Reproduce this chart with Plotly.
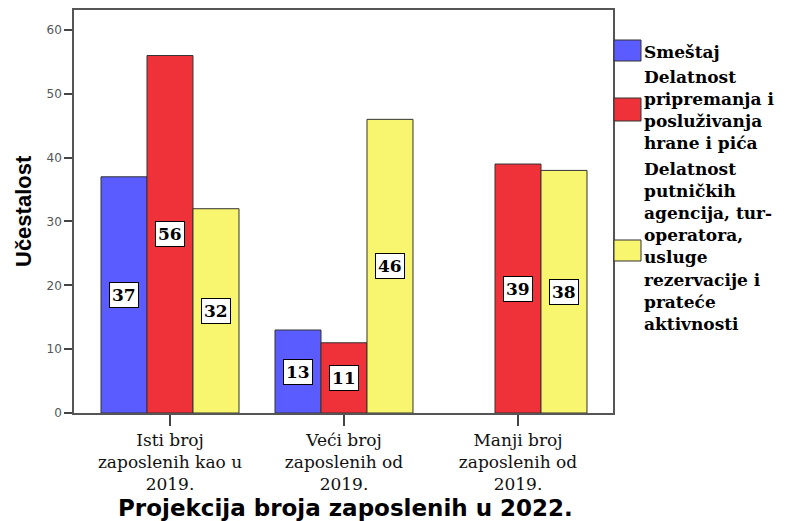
import plotly.graph_objects as go

# --- data -------------------------------------------------------------
categories = [
    "Isti broj<br>zaposlenih kao u<br>2019.",
    "Veći broj<br>zaposlenih od<br>2019.",
    "Manji broj<br>zaposlenih od<br>2019.",
]
series_names = [
    "Smeštaj",
    "Delatnost<br>pripremanja i<br>posluživanja<br>hrane i pića",
    "Delatnost<br>putničkih<br>agencija, tur-<br>operatora,<br>usluge<br>rezervacije i<br>prateće<br>aktivnosti",
]
smestaj = [37, 13, None]
hrana_i_pice = [56, 11, 39]
agencije = [32, 46, 38]
y_ticks = [0, 10, 20, 30, 40, 50, 60]

series_values = [smestaj, hrana_i_pice, agencije]
series_colors = ["#5a5cff", "#ef323a", "#f8f56e"]

# --- layout geometry (pixels) ----------------------------------------
W, H = 805, 521
PL, PR, PT, PB = 74, 613, 10, 413
BARGAP = 0.207
SLOT = (1 - BARGAP) / 3


def px_x(px):
    return (px - PL) / (PR - PL)


def px_y(py):
    return (PB - py) / (PB - PT)


x_idx = list(range(len(categories)))

fig = go.Figure()
for name, vals, col in zip(series_names, series_values, series_colors):
    fig.add_trace(go.Bar(
        x=x_idx, y=vals, name=name,
        marker=dict(color=col, line=dict(color="#333333", width=1)),
        showlegend=False,
    ))

annotations = []
# value labels in white boxes, centred in each bar
for k, vals in enumerate(series_values):
    for i, v in enumerate(vals):
        if v is None:
            continue
        annotations.append(dict(
            x=i + (k - 1) * SLOT, y=v / 2, xref="x", yref="y",
            text=f"<b>{v}</b>", showarrow=False,
            font=dict(family="DejaVu Serif", size=17, color="black"),
            bgcolor="white", bordercolor="black", borderwidth=1, borderpad=2,
            xanchor="center", yanchor="middle",
        ))

# axis titles
annotations.append(dict(
    x=px_x(345), y=px_y(508), xref="paper", yref="paper",
    text="<b>Projekcija broja zaposlenih u 2022.</b>", showarrow=False,
    font=dict(family="DejaVu Sans", size=23, color="black"),
    xanchor="center", yanchor="middle",
))
annotations.append(dict(
    x=px_x(23), y=px_y(211), xref="paper", yref="paper",
    text="<b>Učestalost</b>", showarrow=False, textangle=-90,
    font=dict(family="Liberation Sans", size=22, color="black"),
    xanchor="center", yanchor="middle",
))

# legend: swatches + multi-line labels
shapes = []
legend_swatches = [(40, 61), (98, 121), (240, 261)]
legend_text_y = [52, 110, 246]
for name, col, (y0, y1), ty in zip(series_names, series_colors, legend_swatches, legend_text_y):
    shapes.append(dict(
        type="rect", xref="paper", yref="paper",
        x0=px_x(614), x1=px_x(641), y0=px_y(y1), y1=px_y(y0),
        fillcolor=col, line=dict(color="#333333", width=1),
    ))
    annotations.append(dict(
        x=px_x(643), y=px_y(ty), xref="paper", yref="paper",
        text="<b>" + name + "</b>", showarrow=False, align="left",
        font=dict(family="DejaVu Serif", size=17, color="black"),
        xanchor="left", yanchor="middle", borderpad=0,
    ))

fig.update_layout(
    width=W, height=H,
    margin=dict(l=PL, r=W - PR, t=PT, b=H - PB, autoexpand=False),
    paper_bgcolor="white", plot_bgcolor="white",
    barmode="group", bargap=BARGAP, bargroupgap=0,
    showlegend=False,
    annotations=annotations, shapes=shapes,
)
fig.update_xaxes(
    range=[-0.5517, 2.546], tickmode="array", tickvals=x_idx, ticktext=categories,
    ticks="outside", ticklen=11, tickcolor="#444444", tickwidth=1.5,
    showline=True, mirror=True, linecolor="#555555", linewidth=1.5,
    showgrid=False, zeroline=False,
    tickfont=dict(family="DejaVu Serif", size=17, color="#111111"),
)
fig.update_yaxes(
    range=[0, 63.13], tickmode="array", tickvals=y_ticks,
    ticks="outside", ticklen=8, tickcolor="#444444", tickwidth=1.5,
    showline=True, mirror=True, linecolor="#555555", linewidth=1.5,
    showgrid=False, zeroline=False,
    tickfont=dict(family="DejaVu Sans", size=12, color="#555555"),
)

fig.write_html("out.html")
